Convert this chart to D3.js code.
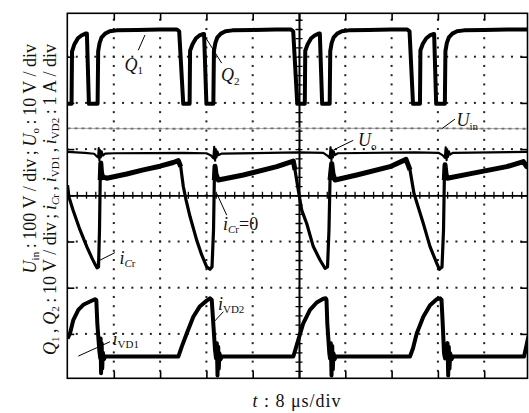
<!DOCTYPE html>
<html><head><meta charset="utf-8">
<script src="https://cdn.jsdelivr.net/npm/d3@7"></script>
<style>body{margin:0;background:#fff}svg{display:block}</style>
</head><body><svg id="c" width="529" height="413"></svg>
<script>
// ---- data (t in µs, value in divisions; 8 µs/div) ----
const xTicks = [0, 8, 16, 24, 32, 40, 48, 56, 64, 72, 80];
const yTicks = [-4, -3, -2, -1, 0, 1, 2, 3, 4];

// gate signals Q1 / Q2 (one overlapped trace)
const qGate = [
 [0,1.98],[0.7,1.98],[0.78,3.11],[1.2,3.27],[1.8,3.40],[2.4,3.46],[3.1,3.50],[3.35,3.50],[3.7,1.98],
 [5.2,1.98],[5.3,3.12],[5.55,3.30],[5.9,3.42],[6.5,3.50],[7.3,3.55],[8.5,3.57],[12,3.58],[16,3.59],[18.9,3.59],[19.3,3.55],[20.0,1.98],
 [21.1,1.98],[21.18,3.13],[21.6,3.27],[22.2,3.40],[22.8,3.46],[23.4,3.49],[23.6,3.49],[24.0,1.98],
 [25.2,1.98],[25.3,3.12],[25.55,3.30],[25.9,3.42],[26.5,3.50],[27.3,3.55],[28.5,3.57],[32,3.58],[36,3.59],[38.6,3.59],[39.0,3.55],[39.7,1.98],
 [41.0,1.98],[41.08,3.13],[41.5,3.27],[42.1,3.40],[42.7,3.46],[43.4,3.50],[43.6,3.50],[44.0,1.98],
 [45.3,1.98],[45.4,3.12],[45.65,3.30],[46.0,3.42],[46.6,3.50],[47.4,3.55],[48.6,3.57],[52,3.58],[56,3.59],[58.7,3.59],[59.1,3.55],[59.7,1.98],
 [60.9,1.98],[60.98,3.14],[61.4,3.28],[62.0,3.40],[62.6,3.46],[63.2,3.49],[63.35,3.49],[63.7,1.98],
 [65.2,1.98],[65.3,3.12],[65.55,3.30],[65.9,3.42],[66.5,3.50],[67.3,3.55],[68.5,3.57],[72,3.58],[76,3.59],[80,3.59]
];
// input voltage Uin
const uIn = [[0,1.45],[20,1.44],[40,1.45],[60,1.45],[80,1.44]];
// output voltage Uo
const uO = [
 [0,0.94],[3.0,0.92],[4.6,0.90],[5.0,0.85],[5.3,0.82],[5.4,1.02],[5.5,0.76],[5.6,0.98],[5.75,0.82],[5.9,0.95],[6.1,0.86],[6.5,0.90],[8,0.91],
 [20,0.92],[24,0.91],[24.8,0.86],[25.2,0.80],[25.35,1.05],[25.5,0.75],[25.6,0.99],[25.75,0.82],[25.9,0.95],[26.1,0.87],[26.6,0.90],
 [40,0.93],[44.2,0.92],[44.9,0.86],[45.3,0.81],[45.45,1.04],[45.6,0.76],[45.7,0.98],[45.85,0.82],[46.0,0.95],[46.2,0.87],[46.7,0.91],
 [60,0.93],[64.1,0.92],[64.8,0.87],[65.2,0.81],[65.35,1.04],[65.5,0.76],[65.6,0.98],[65.75,0.83],[65.9,0.95],[66.1,0.88],[66.6,0.92],[80,0.94]
];
// resonant capacitor current iCr
const iCr = [
 [0,0.22],[0.26,-0.04],[0.95,-0.32],[2.16,-0.75],[3.37,-1.12],[4.23,-1.36],[4.75,-1.49],[5.10,-1.57],[5.36,-1.55],[5.53,-0.75],[5.65,0.33],[5.75,0.70],[5.87,0.50],[6.05,0.40],[6.77,0.37],
 [10.23,0.46],[13.10,0.55],[15.98,0.63],[18.28,0.71],[19.15,0.75],[19.56,0.62],[20.01,0.19],[20.48,-0.10],[21.17,-0.46],[22.32,-0.97],[23.19,-1.29],[24.05,-1.55],[24.62,-1.60],[24.97,-1.55],
 [25.23,-0.75],[25.37,0.33],[25.49,0.63],[25.66,0.46],[26.06,0.33],[30.38,0.44],[36.15,0.62],[39.02,0.74],[39.31,0.55],[39.88,0.11],[40.47,-0.32],[41.33,-0.61],[42.47,-1.11],[43.63,-1.40],[44.49,-1.58],[44.93,-1.55],
 [45.18,-0.75],[45.36,0.33],[45.65,0.69],[45.88,0.46],[46.22,0.33],[49.97,0.44],[55.73,0.62],[58.02,0.75],[58.49,0.78],[59.18,0.55],[59.87,0.04],[61.48,-0.61],[62.64,-1.11],[63.79,-1.47],[64.24,-1.60],[64.71,-1.55],
 [64.97,-0.75],[65.11,0.33],[65.23,0.66],[65.40,0.46],[65.63,0.37],[70.12,0.48],[75.89,0.62],[78.76,0.73],[79.34,0.62],[80,0.59]
];
// diode currents iVD1 / iVD2 (one trace)
const iVD = [
 [0,-3.10],[0.43,-2.99],[1.0,-2.70],[1.87,-2.48],[2.73,-2.37],[3.89,-2.30],[4.75,-2.25],[4.98,-2.27],[5.15,-2.77],[5.49,-3.35],[5.67,-3.53],
 [5.72,-3.1],[5.80,-3.85],[5.90,-3.2],[6.0,-3.75],[6.1,-3.4],[6.3,-3.55],[6.5,-3.49],
 [19.15,-3.49],[19.73,-3.28],[20.60,-2.99],[21.74,-2.63],[22.89,-2.40],[24.05,-2.28],[24.62,-2.23],[24.92,-2.26],[25.19,-2.77],[25.49,-3.35],[25.66,-3.53],
 [25.80,-3.2],[25.92,-3.9],[26.04,-3.28],[26.14,-3.75],[26.26,-3.42],[26.44,-3.55],[26.70,-3.49],
 [39.02,-3.49],[39.88,-3.13],[40.74,-2.77],[41.90,-2.48],[43.06,-2.32],[44.20,-2.24],[44.61,-2.23],[44.75,-2.26],[44.89,-2.77],[45.24,-3.42],[45.36,-3.53],
 [45.50,-3.2],[45.62,-3.9],[45.74,-3.26],[45.84,-3.77],[45.96,-3.42],[46.14,-3.55],[46.39,-3.49],
 [59.18,-3.49],[59.70,-3.31],[60.34,-2.99],[61.48,-2.63],[62.64,-2.38],[63.79,-2.25],[64.36,-2.23],[64.62,-2.26],[64.83,-2.77],[65.06,-3.42],[65.23,-3.53],
 [65.66,-3.2],[65.78,-3.9],[65.88,-3.28],[66.0,-3.75],[66.13,-3.42],[66.35,-3.55],[66.61,-3.49],
 [78.88,-3.49],[79.14,-3.35],[79.57,-3.09],[80,-2.96]
];

// ---- layout ----
const svg = d3.select("#c");
const FONT = "'Liberation Serif','DejaVu Serif',serif";
const x = d3.scaleLinear().domain([0, 80]).range([67.5, 530.5]);
const y = d3.scaleLinear().domain([-4, 4]).range([380.1, 10.5]);
const frame = {l: 67.3, t: 13.3, r: 527.5, b: 378.3};

svg.append("defs").append("clipPath").attr("id", "clip")
  .append("rect").attr("x", frame.l).attr("y", frame.t)
  .attr("width", frame.r - frame.l).attr("height", frame.b - frame.t);

const plot = svg.append("g").attr("clip-path", "url(#clip)");

// dotted grid
const minorX = d3.range(0, 80.01, 1.6);
const minorY = d3.range(-4, 4.001, 0.2);
const dots = [];
xTicks.filter(t => t !== 0 && t !== 40 && t !== 80).forEach(t => minorY.forEach(v => dots.push([t, v])));
yTicks.filter(v => v !== -4 && v !== 0 && v !== 4).forEach(v => minorX.forEach(t => dots.push([t, v])));
plot.append("g").selectAll("rect").data(dots).join("rect")
  .attr("x", d => x(d[0]) - 1).attr("y", d => y(d[1]) - 1)
  .attr("width", 2).attr("height", 2).attr("fill", "#222");

// center axes with minor ticks (both sides)
function styleAxis(g, w) {
  g.select(".domain").attr("stroke", "#000").attr("stroke-width", w);
  g.selectAll(".tick line").attr("stroke", "#000").attr("stroke-width", 1.3);
  g.selectAll("text").remove();
}
const cx = x(40), cy = y(0);
[d3.axisBottom, d3.axisTop].forEach(ax => {
  plot.append("g").attr("transform", `translate(0,${cy})`)
    .call(ax(x).tickValues(minorX).tickSize(3.5).tickSizeOuter(0).tickFormat(""))
    .call(g => styleAxis(g, 1.6));
});
[d3.axisLeft, d3.axisRight].forEach(ax => {
  plot.append("g").attr("transform", `translate(${cx},0)`)
    .call(ax(y).tickValues(minorY).tickSize(3.5).tickSizeOuter(0).tickFormat(""))
    .call(g => styleAxis(g, 1.6));
});

// traces
const line = d3.line().x(d => x(d[0])).y(d => y(d[1]));
function trace(data, color, w, gen = line) {
  plot.append("path").datum(data).attr("d", gen).attr("fill", "none")
    .attr("stroke", color).attr("stroke-width", w).attr("stroke-linejoin", "round");
}
trace(uIn, "#b0b0b0", 1.2);
plot.append("path").datum(uIn).attr("d", line).attr("fill", "none")
  .attr("stroke", "#707070").attr("stroke-width", 1.8).attr("stroke-dasharray", "3,4");
trace(uO, "#000", 2.2);
trace(qGate, "#000", 4);
trace(iCr, "#000", 3.2);
// noisy thick band on the positive ramps of iCr
trace(iCr, "#000", 5, d3.line().defined(d => d[1] >= 0.3).x(d => x(d[0])).y(d => y(d[1])));
trace(iVD, "#000", 4);

// frame + border ticks
svg.append("rect").attr("x", frame.l).attr("y", frame.t)
  .attr("width", frame.r - frame.l).attr("height", frame.b - frame.t)
  .attr("fill", "none").attr("stroke", "#000").attr("stroke-width", 1.6);
const bt = [
  [d3.axisBottom(x), `translate(0,${frame.t})`],
  [d3.axisTop(x), `translate(0,${frame.b})`]
];
bt.forEach(([ax, tr]) => {
  svg.append("g").attr("transform", tr)
    .call(ax.tickValues(xTicks.filter(t => t > 0 && t < 80)).tickSize(7).tickFormat(""))
    .call(g => { g.select(".domain").remove(); g.selectAll(".tick line").attr("stroke", "#000").attr("stroke-width", 1.6); });
});
const bl = [
  [d3.axisRight(y), `translate(${frame.l},0)`],
  [d3.axisLeft(y), `translate(${frame.r},0)`]
];
bl.forEach(([ax, tr]) => {
  svg.append("g").attr("transform", tr)
    .call(ax.tickValues(yTicks.filter(v => v > -4 && v < 4)).tickSize(7).tickFormat(""))
    .call(g => { g.select(".domain").remove(); g.selectAll(".tick line").attr("stroke", "#000").attr("stroke-width", 1.6); });
});

// ---- annotations (anchors in data units) ----
const notes = [
  {at: [9.85, 2.70], parts: [["Q", "i", 0], ["1", "n", 1]], lead: [[13.39, 3.47], [12.23, 3.14]]},
  {at: [26.52, 2.47], parts: [["Q", "i", 0], ["2", "n", 1]], lead: [[23.59, 3.47], [26.64, 2.86]]},
  {at: [67.22, 1.49], parts: [["U", "i", 0], ["in", "n", 1]], lead: [[64.66, 1.44], [66.96, 1.65]]},
  {at: [50.20, 1.06], parts: [["U", "i", 0], ["o", "n", 1]], lead: [[45.93, 0.98], [49.38, 1.19]]},
  {at: [26.87, -0.75], parts: [["i", "i", 0], ["C", "i", 1], ["r", "n", 1], ["=0", "n", 0]], lead: [[25.78, 0.04], [27.51, -0.43]]},
  {at: [8.98, -1.48], parts: [["i", "i", 0], ["C", "i", 1], ["r", "n", 1]], lead: [[5.05, -1.44], [8.21, -1.24]]},
  {at: [7.78, -3.24], parts: [["i", "i", 0], ["VD1", "n", 1]], lead: [[1.87, -3.48], [7.34, -3.17]]},
  {at: [26.0, -2.48], parts: [["i", "i", 0], ["VD2", "n", 1]], lead: [[25.31, -2.74], [26.92, -2.52]]}
];
function richText(sel, parts, big, small, shift) {
  let level = 0;
  parts.forEach(([s, st, sub]) => {
    const ts = sel.append("tspan").text(s)
      .attr("font-style", st === "i" ? "italic" : "normal")
      .attr("font-size", sub ? small : big);
    if (sub !== level) { ts.attr("dy", sub ? shift : -shift); level = sub; }
  });
}
notes.forEach(n => {
  svg.append("line").attr("x1", x(n.lead[0][0])).attr("y1", y(n.lead[0][1]))
    .attr("x2", x(n.lead[1][0])).attr("y2", y(n.lead[1][1]))
    .attr("stroke", "#000").attr("stroke-width", 1);
  const t = svg.append("text").attr("x", x(n.at[0])).attr("y", y(n.at[1]))
    .attr("font-family", FONT).attr("fill", "#111");
  richText(t, n.parts, 18, 11, 3.5);
});

// axis titles
const yTitle1 = [["U", "i", 0], ["in", "n", 1], ["\u2009:\u2009100 V / div\u2009;\u2009", "n", 0], ["U", "i", 0], ["o", "n", 1], ["\u2009:\u200910 V / div", "n", 0]];
const yTitle2 = [["Q", "i", 0], ["1", "n", 1], ["\u2009,\u2009", "n", 0], ["Q", "i", 0], ["2", "n", 1], ["\u2009:\u200910 V / div\u2009;\u2009", "n", 0],
  ["i", "i", 0], ["C", "i", 1], ["r", "n", 1], ["\u2009,\u2009", "n", 0], ["i", "i", 0], ["VD1", "n", 1], ["\u2009,\u2009", "n", 0],
  ["i", "i", 0], ["VD2", "n", 1], ["\u2009:\u20091 A / div", "n", 0]];
[[yTitle1, 36], [yTitle2, 56]].forEach(([parts, bx]) => {
  const t = svg.append("text").attr("transform", `translate(${bx},44) rotate(-90)`)
    .attr("text-anchor", "end").attr("font-family", FONT).attr("fill", "#111");
  richText(t, parts, 18, 11, 3);
});
const xt = svg.append("text").attr("x", 297).attr("y", 407).attr("text-anchor", "middle")
  .attr("font-family", FONT).attr("fill", "#111").attr("letter-spacing", 1);
richText(xt, [["t", "i", 0], [" : 8 \u03bcs/div", "n", 0]], 18, 11, 3);
</script></body></html>
